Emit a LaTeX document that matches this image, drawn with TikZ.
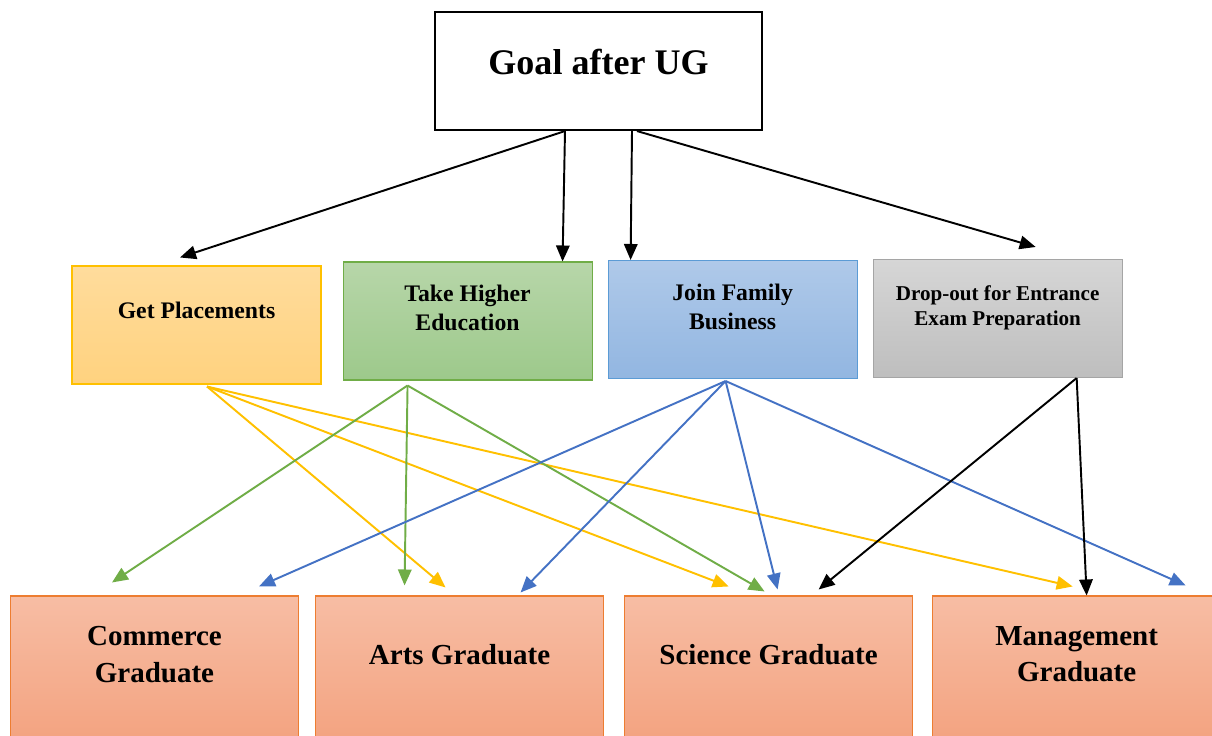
\documentclass[tikz,border=0pt]{standalone}
\usepackage{fontspec}
\setmainfont{Liberation Serif}
\usetikzlibrary{positioning, arrows.meta}

\definecolor{yellowline}{HTML}{FFC000}
\definecolor{greenline}{HTML}{70AD47}
\definecolor{blueline}{HTML}{4472C4}
\definecolor{blueedge}{HTML}{5B9BD5}
\definecolor{grayedge}{HTML}{A5A5A5}
\definecolor{orangeedge}{HTML}{ED7D31}

% extra depth so the text sits higher in its box
\newcommand{\lowstrut}[1]{\rule[-#1]{0pt}{0pt}}

\begin{document}
\begin{tikzpicture}[node distance=0.3cm, >=latex]
      \tikzstyle{goalbox} = [rectangle, minimum width=6.54cm, minimum height=2.36cm, text centered, draw=black, line width=1.2pt, fill=white, font=\fontsize{20.5}{24}\selectfont\bfseries]
      \tikzstyle{choice} = [rectangle, minimum width=4.98cm, minimum height=2.36cm, align=center, line width=0.6pt, font=\fontsize{13.5}{16.5}\selectfont\bfseries]
      \tikzstyle{degree} = [rectangle, minimum width=5.76cm, minimum height=3cm, align=center, line width=0.6pt, draw=orangeedge, top color={rgb,255:red,247;green,189;blue,164}, bottom color={rgb,255:red,243;green,162;blue,127}, font=\fontsize{16.5}{21}\selectfont\bfseries]
      \tikzstyle{arrow} = [line width=1.1pt, -{Triangle[length=0.32cm, width=0.27cm]}]

      \useasboundingbox (0,0) rectangle (24.24,-14.72);

      \node (goal) [goalbox] at (11.97,-1.42) {Goal after UG\lowstrut{0.36cm}};

      \node (place) [choice, draw=yellowline, top color={rgb,255:red,255;green,220;blue,156}, bottom color={rgb,255:red,255;green,210;blue,127}] at (3.93,-6.50) {Get Placements\lowstrut{0.6cm}};
      \node (higher) [choice, right=0.42cm of place, yshift=0.08cm, draw=greenline, top color={rgb,255:red,183;green,214;blue,169}, bottom color={rgb,255:red,157;green,201;blue,139}] {Take Higher\\Education\lowstrut{0.52cm}};
      \node (family) [choice, right= of higher, yshift=0.03cm, draw=blueedge, top color={rgb,255:red,175;green,201;blue,233}, bottom color={rgb,255:red,146;green,182;blue,225}] {Join Family\\Business\lowstrut{0.52cm}};
      \node (drop) [choice, right= of family, yshift=0.02cm, draw=grayedge, top color={rgb,255:red,214;green,214;blue,214}, bottom color={rgb,255:red,190;green,190;blue,190}, font=\fontsize{12}{14.5}\selectfont\bfseries] {Drop-out for Entrance\\Exam Preparation\lowstrut{0.52cm}};

      \draw [arrow] ([xshift=-0.67cm]goal.south) -- ([xshift=-0.33cm, yshift=0.16cm]place.north);
      \draw [arrow] ([xshift=-0.67cm]goal.south) -- ([xshift=1.9cm]higher.north);
      \draw [arrow] ([xshift=0.67cm]goal.south) -- ([xshift=-2.04cm]family.north);
      \draw [arrow] ([xshift=0.77cm]goal.south) -- ([xshift=0.76cm, yshift=0.24cm]drop.north);

      \node (commerce) [degree] at (3.09,-13.42) {Commerce\\Graduate\lowstrut{0.68cm}};
      \node (arts) [degree, right=0.32cm of commerce] {Arts Graduate\lowstrut{0.68cm}};
      \node (science) [degree, right=0.4cm of arts] {Science Graduate\lowstrut{0.68cm}};
      \node (management) [degree, right=0.38cm of science] {Management\\Graduate\lowstrut{0.68cm}};

      \draw [arrow, yellowline] ([xshift=0.21cm, yshift=-0.04cm]place.south) -- ([xshift=-0.28cm, yshift=0.16cm]arts.north);
      \draw [arrow, yellowline] ([xshift=0.21cm, yshift=-0.04cm]place.south) -- ([xshift=-0.8cm, yshift=0.18cm]science.north);
      \draw [arrow, yellowline] ([xshift=0.21cm, yshift=-0.04cm]place.south) -- ([xshift=-0.08cm, yshift=0.18cm]management.north);

      \draw [arrow, greenline] ([xshift=-1.2cm, yshift=-0.1cm]higher.south) -- ([xshift=-0.85cm, yshift=0.26cm]commerce.north);
      \draw [arrow, greenline] ([xshift=-1.2cm, yshift=-0.1cm]higher.south) -- ([xshift=-1.1cm, yshift=0.2cm]arts.north);
      \draw [arrow, greenline] ([xshift=-1.2cm, yshift=-0.1cm]higher.south) -- ([xshift=-0.08cm, yshift=0.08cm]science.north);

      \draw [arrow, blueline] ([xshift=-0.14cm, yshift=-0.04cm]family.south) -- ([xshift=2.09cm, yshift=0.18cm]commerce.north);
      \draw [arrow, blueline] ([xshift=-0.14cm, yshift=-0.04cm]family.south) -- ([xshift=1.22cm, yshift=0.06cm]arts.north);
      \draw [arrow, blueline] ([xshift=-0.14cm, yshift=-0.04cm]family.south) -- ([xshift=0.18cm, yshift=0.12cm]science.north);
      \draw [arrow, blueline] ([xshift=-0.14cm, yshift=-0.04cm]family.south) -- ([xshift=2.18cm, yshift=0.2cm]management.north);

      \draw [arrow] ([xshift=1.58cm]drop.south) -- ([xshift=1.0cm, yshift=0.12cm]science.north);
      \draw [arrow] ([xshift=1.58cm]drop.south) -- ([xshift=0.2cm]management.north);

    \end{tikzpicture}
\end{document}
